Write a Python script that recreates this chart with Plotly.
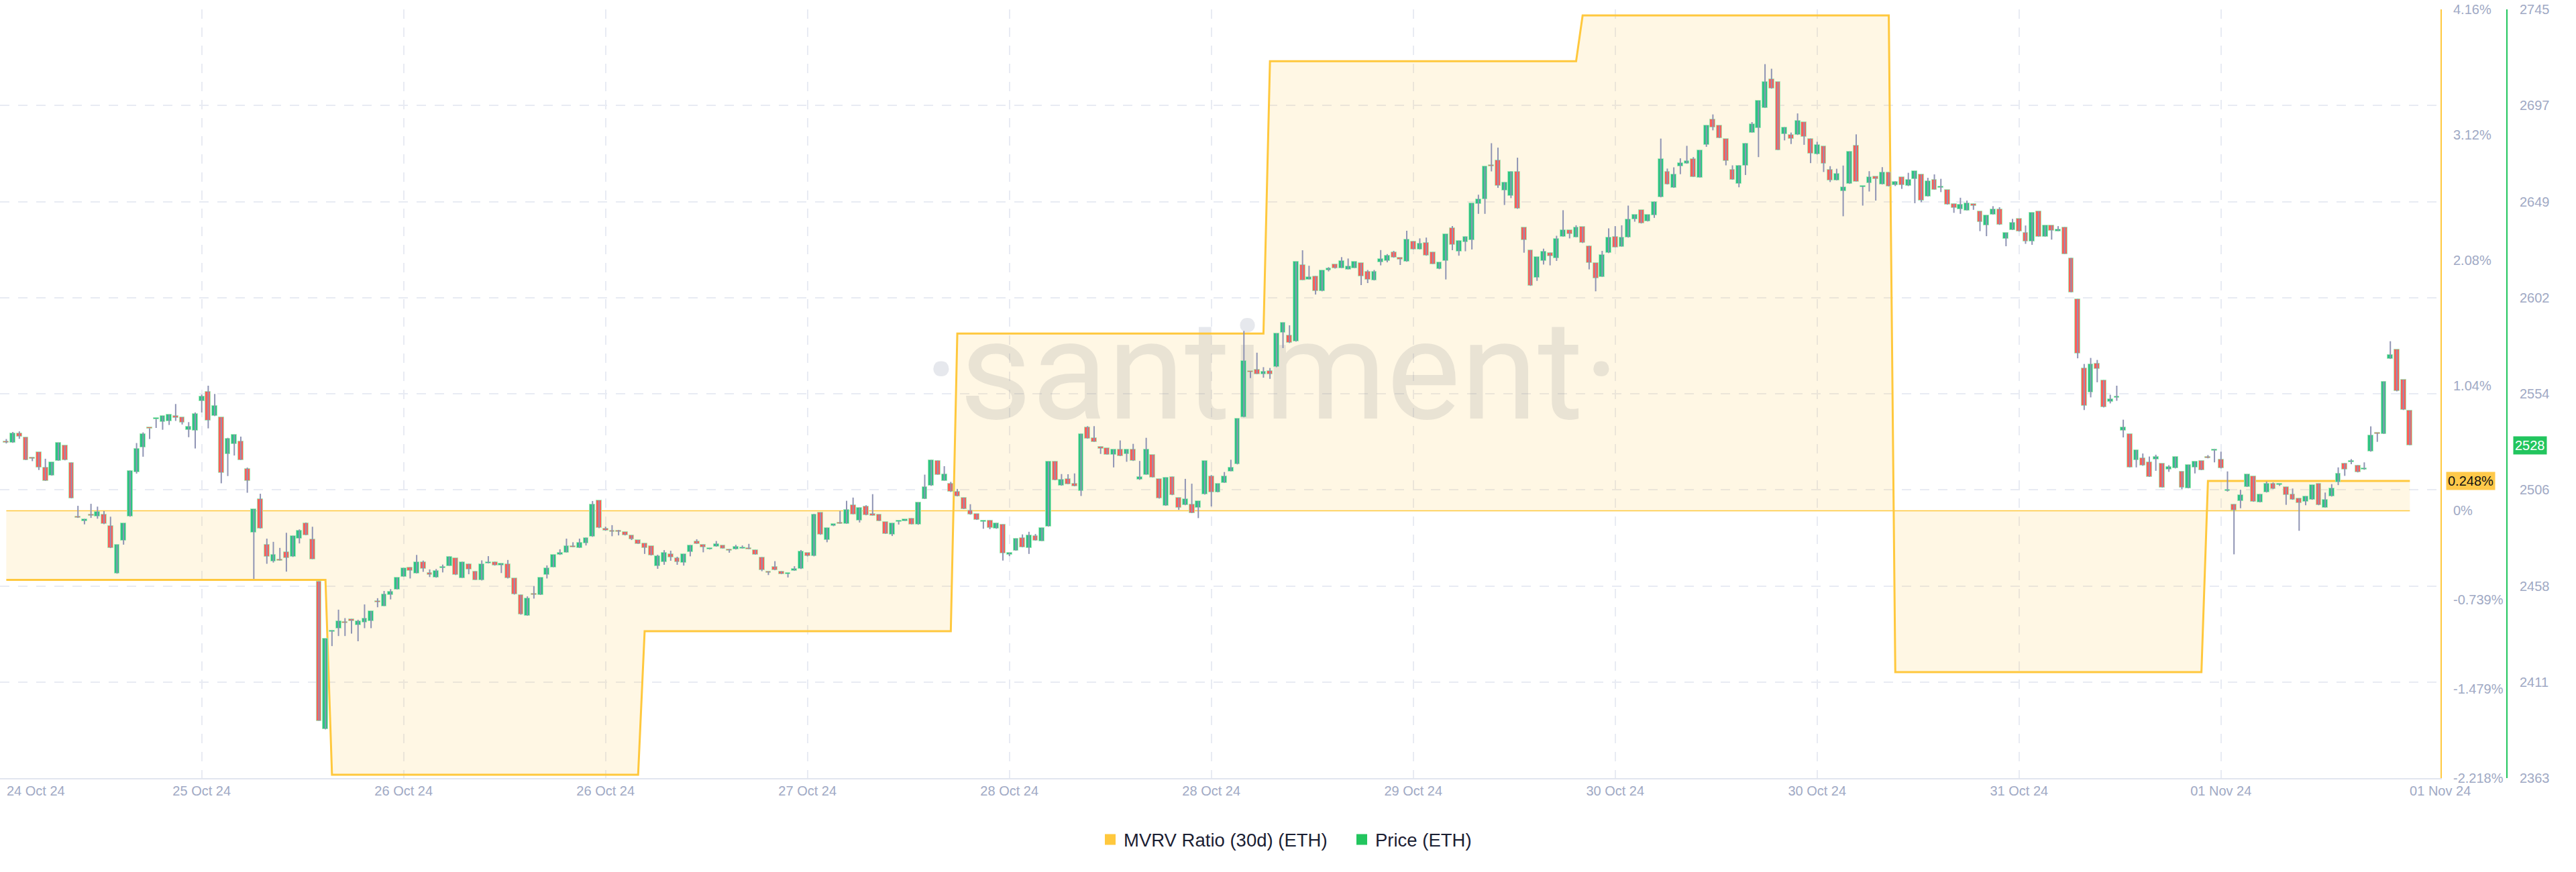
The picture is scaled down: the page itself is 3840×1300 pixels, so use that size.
import pandas as pd
import plotly.graph_objects as go

# ---------------- data ----------------
START = "2024-10-24 23:00"   # first 30-minute candle

OPEN = [
    2530.4, 2529.6, 2534.2, 2532.4, 2522.4, 2524.9, 2517.5, 2513.3, 2520.7, 2528.3,
    2519.8, 2492.9, 2490.6, 2493.4, 2492.9, 2494.0, 2488.5, 2464.6, 2480.9, 2492.9,
    2515.0, 2527.2, 2536.8, 2541.2, 2540.0, 2540.3, 2543.0, 2542.3, 2536.1, 2535.8,
    2550.3, 2555.0, 2542.9, 2542.2, 2523.9, 2528.9, 2530.3, 2516.8, 2484.9, 2501.7,
    2478.9, 2470.8, 2471.7, 2475.3, 2472.9, 2482.0, 2489.6, 2481.7, 2460.8, 2387.2,
    2435.6, 2437.5, 2440.3, 2442.1, 2439.1, 2440.2, 2441.1, 2450.5, 2448.5, 2454.1,
    2456.8, 2463.1, 2467.8, 2464.7, 2470.3, 2464.9, 2462.6, 2467.2, 2468.5, 2472.2,
    2462.5, 2469.5, 2465.8, 2461.2, 2469.7, 2470.5, 2468.6, 2469.3, 2462.3, 2454.1,
    2443.7, 2454.3, 2454.0, 2464.1, 2467.8, 2473.9, 2475.1, 2478.3, 2477.4, 2479.7,
    2482.9, 2501.0, 2487.0, 2485.6, 2485.8, 2485.2, 2483.6, 2481.3, 2479.7, 2478.2,
    2468.2, 2470.2, 2474.4, 2472.2, 2470.0, 2475.4, 2480.8, 2479.1, 2476.6, 2478.0,
    2478.6, 2476.8, 2476.6, 2477.1, 2477.4, 2476.4, 2472.8, 2465.7, 2468.0, 2465.8,
    2464.2, 2466.0, 2466.9, 2475.0, 2473.2, 2495.0, 2481.3, 2488.2, 2490.0, 2489.4,
    2498.6, 2491.1, 2498.0, 2493.6, 2493.9, 2490.2, 2484.1, 2490.2, 2490.8, 2492.1,
    2488.9, 2501.7, 2508.2, 2520.8, 2510.8, 2509.4, 2505.2, 2502.4, 2496.1, 2494.3,
    2490.2, 2491.1, 2486.9, 2489.1, 2473.9, 2476.0, 2482.4, 2477.4, 2483.2, 2480.8,
    2488.0, 2520.4, 2508.3, 2511.7, 2509.4, 2505.7, 2537.3, 2531.9, 2527.7, 2526.9,
    2523.6, 2526.3, 2523.9, 2526.3, 2511.2, 2513.8, 2523.6, 2511.7, 2498.3, 2512.8,
    2502.4, 2498.6, 2498.9, 2497.4, 2503.9, 2513.0, 2505.0, 2509.7, 2515.5, 2518.9,
    2542.3, 2565.2, 2566.1, 2563.6, 2565.2, 2567.2, 2584.5, 2583.1, 2579.9, 2618.0,
    2610.8, 2612.5, 2604.9, 2615.5, 2618.2, 2616.5, 2615.8, 2616.5, 2618.9, 2614.6,
    2610.3, 2619.3, 2620.0, 2624.4, 2621.6, 2619.6, 2629.8, 2625.7, 2629.1, 2624.4,
    2615.9, 2620.0, 2636.3, 2624.6, 2629.4, 2630.5, 2648.4, 2650.6, 2667.6, 2669.9,
    2655.0, 2652.5, 2664.2, 2636.6, 2625.4, 2611.7, 2620.0, 2624.1, 2621.4, 2632.1,
    2635.2, 2631.8, 2637.0, 2627.5, 2618.9, 2612.1, 2623.9, 2632.1, 2627.1, 2631.6,
    2640.7, 2645.2, 2639.6, 2642.7, 2651.6, 2664.5, 2656.3, 2666.9, 2668.3, 2670.6,
    2661.5, 2677.8, 2690.3, 2687.2, 2680.6, 2665.2, 2658.4, 2667.5, 2683.8, 2686.0,
    2696.1, 2710.5, 2709.0, 2682.9, 2682.6, 2682.6, 2689.0, 2680.8, 2672.9, 2677.0,
    2665.3, 2660.0, 2654.7, 2658.3, 2677.4, 2656.7, 2658.8, 2662.0, 2658.0, 2664.1,
    2657.8, 2661.6, 2657.2, 2660.8, 2663.0, 2652.0, 2660.5, 2656.3, 2655.3, 2648.4,
    2645.6, 2645.1, 2648.4, 2644.6, 2637.6, 2643.1, 2645.6, 2631.0, 2635.4, 2640.9,
    2634.0, 2629.8, 2644.7, 2632.1, 2637.6, 2634.8, 2636.8, 2621.5, 2601.1, 2566.8,
    2554.7, 2569.1, 2560.8, 2550.0, 2552.0, 2535.6, 2534.0, 2521.0, 2522.0, 2519.9,
    2521.5, 2519.3, 2516.5, 2516.9, 2515.4, 2507.0, 2517.4, 2520.7, 2522.1, 2525.6,
    2521.5, 2505.8, 2499.1, 2500.8, 2507.7, 2512.9, 2500.0, 2504.9, 2509.4, 2508.7,
    2507.7, 2504.1, 2502.1, 2500.3, 2501.3, 2509.4, 2497.5, 2502.9, 2509.9, 2519.5,
    2519.9, 2518.5, 2516.2, 2525.2, 2534.5, 2534.0, 2571.3, 2575.9, 2561.0, 2545.6,
]
HIGH = [
    2531.5, 2535.0, 2535.3, 2532.4, 2522.4, 2524.9, 2521.7, 2519.9, 2529.7, 2528.3,
    2519.8, 2498.3, 2491.8, 2499.3, 2497.9, 2495.7, 2492.9, 2479.0, 2489.6, 2515.8,
    2529.5, 2534.8, 2536.8, 2541.5, 2542.9, 2543.7, 2548.9, 2542.3, 2539.9, 2544.7,
    2553.6, 2558.0, 2553.9, 2542.2, 2532.1, 2533.7, 2532.7, 2517.3, 2496.6, 2504.3,
    2482.0, 2480.4, 2477.4, 2484.9, 2483.4, 2486.6, 2490.0, 2487.9, 2460.8, 2432.2,
    2436.5, 2446.7, 2442.5, 2442.1, 2441.7, 2449.3, 2445.9, 2452.4, 2456.0, 2456.9,
    2462.6, 2467.5, 2467.8, 2473.9, 2471.1, 2466.7, 2466.9, 2469.1, 2473.1, 2472.2,
    2470.5, 2469.5, 2465.8, 2471.2, 2473.3, 2470.5, 2469.7, 2471.4, 2462.3, 2454.1,
    2453.3, 2458.4, 2462.6, 2468.7, 2473.9, 2476.7, 2482.0, 2480.2, 2482.0, 2482.5,
    2500.7, 2501.0, 2488.0, 2488.7, 2486.3, 2485.2, 2483.6, 2481.3, 2479.7, 2478.2,
    2474.0, 2476.3, 2476.0, 2473.0, 2474.4, 2478.8, 2481.7, 2479.1, 2477.4, 2480.8,
    2478.6, 2476.8, 2478.9, 2478.6, 2479.4, 2476.4, 2472.8, 2465.7, 2470.8, 2465.8,
    2464.6, 2468.3, 2476.3, 2475.0, 2494.3, 2495.0, 2487.4, 2489.2, 2495.8, 2500.8,
    2502.4, 2497.4, 2498.6, 2504.1, 2493.9, 2490.2, 2489.7, 2490.6, 2491.6, 2492.1,
    2500.0, 2513.8, 2521.1, 2520.8, 2518.0, 2510.2, 2506.7, 2502.4, 2499.1, 2494.3,
    2490.6, 2491.1, 2489.7, 2489.1, 2475.0, 2482.1, 2484.1, 2485.4, 2484.3, 2487.4,
    2520.2, 2520.4, 2514.1, 2514.0, 2514.4, 2534.1, 2537.9, 2537.9, 2527.7, 2526.9,
    2526.3, 2530.8, 2526.3, 2529.1, 2520.6, 2532.1, 2523.6, 2511.7, 2512.4, 2512.8,
    2502.4, 2511.7, 2509.3, 2500.6, 2520.6, 2513.6, 2509.3, 2515.1, 2521.2, 2541.6,
    2585.2, 2565.2, 2574.4, 2567.2, 2566.8, 2584.0, 2589.4, 2588.0, 2619.6, 2625.3,
    2617.6, 2612.5, 2615.2, 2616.9, 2618.2, 2621.9, 2621.2, 2619.6, 2618.9, 2615.5,
    2615.5, 2625.4, 2623.4, 2625.0, 2621.6, 2635.0, 2629.8, 2631.2, 2631.6, 2624.4,
    2619.3, 2633.2, 2637.3, 2630.1, 2632.1, 2648.6, 2652.9, 2666.9, 2678.5, 2676.3,
    2659.1, 2664.5, 2671.3, 2636.6, 2625.4, 2622.0, 2626.1, 2624.1, 2632.5, 2645.2,
    2635.2, 2637.7, 2637.0, 2627.5, 2618.9, 2625.0, 2636.2, 2637.3, 2637.7, 2647.5,
    2643.0, 2645.2, 2643.0, 2649.5, 2680.8, 2665.9, 2666.5, 2671.0, 2677.2, 2671.6,
    2675.0, 2687.4, 2692.8, 2687.2, 2680.6, 2667.5, 2667.5, 2678.5, 2689.0, 2699.6,
    2717.8, 2715.5, 2709.0, 2686.5, 2683.8, 2693.3, 2689.0, 2680.8, 2679.2, 2677.0,
    2667.1, 2665.8, 2667.4, 2674.4, 2682.9, 2657.0, 2664.6, 2662.0, 2666.6, 2664.1,
    2659.6, 2661.6, 2663.8, 2664.6, 2663.0, 2661.3, 2663.0, 2660.8, 2655.3, 2648.4,
    2651.4, 2650.0, 2648.4, 2644.6, 2642.6, 2647.2, 2646.7, 2634.0, 2640.9, 2640.9,
    2637.6, 2643.9, 2644.7, 2637.6, 2637.6, 2637.3, 2636.8, 2621.5, 2601.1, 2568.8,
    2571.8, 2570.8, 2560.8, 2553.5, 2558.0, 2541.1, 2534.0, 2526.0, 2524.3, 2522.8,
    2523.7, 2519.3, 2518.5, 2522.7, 2515.4, 2518.7, 2520.3, 2520.7, 2523.5, 2526.5,
    2525.2, 2515.4, 2499.1, 2506.3, 2514.0, 2512.9, 2504.1, 2510.4, 2509.9, 2509.1,
    2507.7, 2506.9, 2502.1, 2503.1, 2508.6, 2509.4, 2504.9, 2509.1, 2517.4, 2519.5,
    2521.5, 2518.5, 2519.9, 2537.8, 2534.5, 2560.1, 2580.1, 2575.9, 2561.0, 2545.6,
]
LOW = [
    2529.3, 2529.6, 2531.6, 2521.0, 2520.5, 2516.1, 2510.7, 2513.3, 2520.7, 2520.9,
    2502.0, 2492.3, 2489.1, 2492.3, 2491.9, 2489.2, 2477.3, 2464.6, 2479.0, 2492.9,
    2514.3, 2522.7, 2531.5, 2537.0, 2536.1, 2538.5, 2540.5, 2538.7, 2532.4, 2526.8,
    2544.7, 2536.8, 2542.9, 2509.5, 2513.1, 2523.3, 2521.1, 2504.8, 2462.0, 2487.0,
    2469.5, 2470.1, 2471.1, 2465.6, 2472.9, 2479.6, 2483.7, 2471.8, 2391.5, 2387.2,
    2428.6, 2433.6, 2433.6, 2434.8, 2431.0, 2437.5, 2437.5, 2447.9, 2448.5, 2451.8,
    2456.8, 2463.1, 2462.2, 2464.7, 2465.5, 2462.9, 2462.6, 2465.2, 2468.5, 2463.9,
    2462.5, 2464.3, 2461.5, 2461.2, 2469.7, 2468.6, 2464.9, 2462.2, 2454.2, 2444.2,
    2443.7, 2452.2, 2454.0, 2462.2, 2467.8, 2473.9, 2475.1, 2477.8, 2477.4, 2478.6,
    2482.9, 2487.2, 2485.9, 2483.2, 2483.6, 2483.6, 2481.3, 2479.4, 2474.4, 2473.6,
    2467.0, 2469.0, 2471.0, 2469.0, 2468.6, 2473.2, 2479.4, 2475.2, 2476.6, 2478.0,
    2477.1, 2475.0, 2476.6, 2477.1, 2476.8, 2474.1, 2465.8, 2463.9, 2466.3, 2464.4,
    2462.7, 2466.0, 2466.9, 2473.2, 2473.2, 2483.9, 2480.2, 2488.2, 2489.4, 2489.4,
    2494.1, 2490.0, 2493.6, 2493.5, 2490.8, 2484.4, 2483.3, 2489.0, 2490.8, 2489.1,
    2488.9, 2501.7, 2508.2, 2513.8, 2510.8, 2505.2, 2503.0, 2496.7, 2493.9, 2491.3,
    2486.9, 2486.7, 2486.9, 2471.1, 2473.3, 2476.0, 2477.7, 2474.4, 2481.0, 2480.8,
    2488.0, 2511.0, 2508.3, 2509.1, 2508.0, 2503.2, 2531.7, 2530.1, 2524.1, 2523.8,
    2517.4, 2523.0, 2520.2, 2520.6, 2511.2, 2513.8, 2512.4, 2501.9, 2498.3, 2503.6,
    2496.3, 2498.6, 2494.7, 2492.2, 2503.9, 2498.0, 2505.0, 2509.7, 2515.5, 2518.9,
    2542.3, 2561.8, 2563.8, 2562.0, 2561.4, 2567.2, 2576.7, 2579.2, 2579.9, 2610.5,
    2610.8, 2603.3, 2604.9, 2614.8, 2616.2, 2616.5, 2615.8, 2616.5, 2608.0, 2609.0,
    2610.3, 2617.8, 2619.3, 2621.6, 2618.0, 2619.6, 2625.7, 2625.7, 2622.6, 2618.5,
    2615.9, 2610.8, 2625.3, 2622.6, 2624.8, 2625.7, 2643.4, 2643.4, 2664.5, 2656.3,
    2647.8, 2651.2, 2645.9, 2624.1, 2607.6, 2610.1, 2618.2, 2617.8, 2620.0, 2632.1,
    2631.2, 2631.8, 2628.9, 2615.8, 2604.9, 2612.1, 2623.9, 2626.8, 2627.1, 2631.6,
    2639.5, 2638.6, 2639.6, 2641.4, 2651.6, 2658.0, 2656.3, 2663.1, 2668.3, 2661.8,
    2661.5, 2676.7, 2684.9, 2681.1, 2667.5, 2660.4, 2656.6, 2662.7, 2683.8, 2671.6,
    2696.1, 2705.6, 2675.1, 2679.9, 2678.1, 2682.6, 2677.7, 2668.6, 2672.9, 2664.2,
    2659.2, 2660.0, 2642.2, 2658.3, 2659.5, 2647.5, 2654.5, 2650.0, 2658.0, 2657.0,
    2657.2, 2655.8, 2657.2, 2648.7, 2649.2, 2652.0, 2655.5, 2654.2, 2648.0, 2643.9,
    2643.4, 2645.1, 2645.4, 2634.8, 2632.3, 2643.1, 2637.9, 2627.3, 2635.4, 2634.6,
    2628.5, 2628.0, 2632.1, 2632.1, 2630.6, 2634.8, 2623.5, 2604.4, 2571.6, 2545.9,
    2552.2, 2559.7, 2547.2, 2549.2, 2550.5, 2532.3, 2517.4, 2517.4, 2518.2, 2512.7,
    2515.7, 2507.4, 2515.2, 2516.9, 2506.6, 2507.0, 2514.4, 2516.0, 2521.9, 2519.9,
    2516.9, 2505.4, 2474.2, 2497.1, 2507.7, 2500.3, 2500.0, 2504.9, 2506.6, 2508.2,
    2498.8, 2501.3, 2485.9, 2498.6, 2501.3, 2498.6, 2497.5, 2502.9, 2508.6, 2513.2,
    2519.0, 2514.9, 2516.2, 2525.2, 2530.1, 2534.0, 2571.3, 2555.2, 2545.9, 2528.4,
]
CLOSE = [
    2529.7, 2534.3, 2532.7, 2521.0, 2521.6, 2517.4, 2510.7, 2519.9, 2529.7, 2520.9,
    2502.0, 2492.4, 2491.8, 2493.2, 2495.3, 2489.2, 2477.3, 2479.0, 2489.6, 2515.8,
    2526.6, 2534.1, 2536.6, 2541.5, 2542.9, 2543.7, 2541.9, 2539.6, 2537.8, 2544.1,
    2552.7, 2540.8, 2547.9, 2514.7, 2531.6, 2533.7, 2521.1, 2510.8, 2496.6, 2487.0,
    2473.0, 2473.9, 2471.1, 2472.3, 2483.4, 2486.0, 2483.7, 2471.8, 2391.5, 2432.2,
    2436.5, 2440.9, 2440.1, 2440.9, 2441.1, 2442.5, 2445.9, 2450.4, 2454.4, 2455.6,
    2462.6, 2467.5, 2465.9, 2470.5, 2467.1, 2464.1, 2466.1, 2467.4, 2473.1, 2463.9,
    2470.5, 2466.7, 2461.5, 2469.5, 2470.3, 2468.6, 2469.7, 2462.2, 2454.2, 2444.2,
    2452.4, 2454.1, 2462.6, 2467.3, 2473.9, 2475.1, 2478.3, 2477.8, 2479.9, 2482.5,
    2498.9, 2487.2, 2485.9, 2485.4, 2485.2, 2483.6, 2481.7, 2479.4, 2477.4, 2473.6,
    2473.2, 2475.0, 2472.8, 2470.2, 2474.4, 2478.8, 2479.4, 2477.7, 2477.4, 2479.4,
    2477.1, 2476.0, 2478.0, 2477.8, 2476.8, 2474.1, 2466.3, 2464.9, 2466.3, 2464.4,
    2464.6, 2466.9, 2475.8, 2473.2, 2493.9, 2483.9, 2487.4, 2489.2, 2489.4, 2496.3,
    2494.1, 2497.4, 2493.6, 2493.5, 2490.8, 2484.4, 2489.7, 2490.3, 2491.6, 2489.1,
    2500.0, 2507.8, 2521.1, 2513.8, 2514.1, 2505.2, 2503.0, 2496.7, 2493.9, 2491.3,
    2490.6, 2487.2, 2489.7, 2474.7, 2475.0, 2482.1, 2477.7, 2483.6, 2481.0, 2487.4,
    2520.2, 2511.0, 2511.2, 2509.1, 2508.0, 2534.1, 2531.7, 2530.1, 2526.6, 2523.8,
    2526.3, 2523.0, 2526.3, 2520.6, 2512.8, 2526.3, 2512.4, 2501.9, 2512.4, 2503.6,
    2497.2, 2501.7, 2494.7, 2500.6, 2520.6, 2505.0, 2509.3, 2513.1, 2517.3, 2541.6,
    2570.2, 2564.8, 2563.8, 2564.9, 2563.6, 2584.0, 2589.4, 2579.2, 2619.6, 2610.5,
    2612.1, 2604.9, 2615.2, 2616.2, 2616.2, 2619.9, 2617.5, 2619.6, 2612.5, 2610.8,
    2614.6, 2621.0, 2622.6, 2621.6, 2620.7, 2630.8, 2625.7, 2628.7, 2622.6, 2618.5,
    2619.3, 2633.2, 2628.0, 2630.1, 2632.1, 2648.6, 2650.6, 2666.9, 2666.9, 2657.4,
    2659.1, 2664.5, 2645.9, 2630.5, 2607.6, 2622.0, 2624.6, 2622.3, 2630.9, 2635.2,
    2633.2, 2636.6, 2628.9, 2618.9, 2611.2, 2623.0, 2631.8, 2626.8, 2631.8, 2640.7,
    2643.0, 2638.6, 2643.0, 2649.5, 2670.6, 2658.0, 2663.1, 2668.8, 2669.7, 2661.8,
    2675.0, 2687.4, 2686.5, 2681.1, 2669.7, 2660.4, 2667.5, 2678.5, 2687.9, 2699.6,
    2709.0, 2705.6, 2675.1, 2686.5, 2680.8, 2689.7, 2681.8, 2673.3, 2677.7, 2668.2,
    2660.0, 2663.3, 2656.7, 2674.4, 2659.5, 2657.0, 2661.6, 2660.8, 2664.0, 2657.0,
    2659.2, 2657.8, 2660.3, 2664.6, 2650.0, 2659.6, 2655.5, 2656.4, 2648.0, 2646.2,
    2648.0, 2648.7, 2647.2, 2639.3, 2642.6, 2645.6, 2637.9, 2634.0, 2638.9, 2634.6,
    2629.8, 2643.9, 2632.1, 2637.6, 2635.1, 2635.6, 2623.5, 2604.4, 2574.1, 2548.0,
    2568.8, 2566.3, 2547.2, 2551.4, 2552.2, 2537.3, 2517.4, 2526.0, 2518.2, 2512.7,
    2522.7, 2507.4, 2517.7, 2522.7, 2507.4, 2518.7, 2520.3, 2516.0, 2521.9, 2525.7,
    2516.9, 2505.9, 2496.1, 2503.8, 2514.0, 2500.3, 2504.1, 2509.4, 2506.6, 2508.9,
    2503.6, 2501.3, 2499.6, 2503.1, 2508.6, 2498.6, 2501.3, 2506.9, 2514.5, 2516.2,
    2520.7, 2514.9, 2516.9, 2533.4, 2534.0, 2560.1, 2573.4, 2555.2, 2545.9, 2528.4,
]

# daily MVRV Ratio (30d), in %
MVRV_DAYS = ["2024-10-25", "2024-10-26", "2024-10-27", "2024-10-28",
             "2024-10-29", "2024-10-30", "2024-10-31", "2024-11-01"]
MVRV_VALUES = [-0.573, -2.19, -0.999, 1.471, 3.73, 4.11, -1.339, 0.248]

PRICE_TICKS = [2363, 2410.75, 2458.5, 2506.25, 2554, 2601.75, 2649.5, 2697.25, 2745]
PRICE_TICK_LABELS = ["2363", "2411", "2458", "2506", "2554", "2602", "2649", "2697", "2745"]
MVRV_TICKS = [-2.218, -1.479, -0.739, 0, 1.04, 2.08, 3.12, 4.16]
MVRV_TICK_LABELS = ["-2.218%", "-1.479%", "-0.739%", "0%", "1.04%", "2.08%", "3.12%", "4.16%"]
X_TICKS = ["2024-10-24 22:31:30", "2024-10-25 14:00", "2024-10-26 05:30", "2024-10-26 21:00",
           "2024-10-27 12:30", "2024-10-28 04:00", "2024-10-28 19:30", "2024-10-29 11:00",
           "2024-10-30 02:30", "2024-10-30 18:00", "2024-10-31 09:30", "2024-11-01 01:00",
           "2024-11-01 17:50"]
X_TICK_LABELS = ["", "25 Oct 24", "26 Oct 24", "26 Oct 24", "27 Oct 24", "28 Oct 24", "28 Oct 24",
                 "29 Oct 24", "30 Oct 24", "30 Oct 24", "31 Oct 24", "01 Nov 24", "01 Nov 24"]
FIRST_X_LABEL = "24 Oct 24"
X_RANGE = ["2024-10-24 22:31", "2024-11-01 17:51"]
SERIES_NAMES = ["MVRV Ratio (30d) (ETH)", "Price (ETH)"]

# ---------------- styling ----------------
W, H = 3840, 1300
ML, MR, MT, MB = 0, 103, 14, 140
PAPER_W = W - ML - MR
PLOT_RIGHT_PX = 3638
XDOM_END = PLOT_RIGHT_PX / PAPER_W

ORANGE = "#FFC83D"
FILL = "rgba(255,200,61,0.14)"
GREEN_AXIS = "#22C55E"
UP = "#2DC483"
DOWN = "#FF5E57"
BODY_EDGE = "#A3E6B5"
WICK = "#8F94B4"
TICK = "#A0A9C4"
GRID = "#E8EBF3"
FONT = "Liberation Sans"

times = pd.date_range(START, periods=len(CLOSE), freq="30min")
mvrv = (pd.Series(MVRV_VALUES, index=pd.to_datetime(MVRV_DAYS))
        .reindex(times, method="ffill").bfill())

bases, heights, colors = [], [], []
wx, wy = [], []
for t, o, h, l, c in zip(times, OPEN, HIGH, LOW, CLOSE):
    lo_b, hi_b = min(o, c), max(o, c)
    bases.append(lo_b)
    heights.append(max(hi_b - lo_b, 0.7))
    colors.append(UP if c >= o else DOWN)
    wx += [t, t, None]
    wy += [min(l, lo_b), max(h, hi_b), None]

fig = go.Figure()

# watermark (under everything)
x0, x1 = pd.Timestamp(X_RANGE[0]), pd.Timestamp(X_RANGE[1])
wm_x = x0 + (x1 - x0) * 0.521
wm_y = MVRV_TICKS[0] + (MVRV_TICKS[-1] - MVRV_TICKS[0]) * 0.513
fig.add_trace(go.Scatter(
    x=[wm_x], y=[wm_y], mode="text", text=["·santiment·"],
    textfont=dict(family="Roboto", size=208, color="rgba(100,110,140,0.16)"),
    hoverinfo="skip", showlegend=False, yaxis="y"))

# MVRV area
fig.add_trace(go.Scatter(
    x=times, y=mvrv.values, mode="lines", line=dict(color=ORANGE, width=3),
    fill="tozeroy", fillcolor=FILL, hoverinfo="skip", showlegend=False, yaxis="y"))
fig.add_trace(go.Scatter(
    x=times, y=[0] * len(times), mode="lines", line=dict(color=ORANGE, width=1.5),
    hoverinfo="skip", showlegend=False, yaxis="y"))

# price candles
fig.add_trace(go.Scatter(
    x=wx, y=wy, mode="lines", line=dict(color=WICK, width=2), connectgaps=False,
    hoverinfo="skip", showlegend=False, yaxis="y2"))
fig.add_trace(go.Bar(
    x=times, y=heights, base=bases, width=1.45e6,
    marker=dict(color=colors, line=dict(color=BODY_EDGE, width=1)),
    hoverinfo="skip", showlegend=False, yaxis="y2"))

# legend entries (one legend each, placed like the reference)
fig.add_trace(go.Scatter(x=[None], y=[None], mode="markers", name=SERIES_NAMES[0],
                         marker=dict(symbol="square", size=17, color=ORANGE),
                         yaxis="y", legend="legend"))
fig.add_trace(go.Scatter(x=[None], y=[None], mode="markers", name=SERIES_NAMES[1],
                         marker=dict(symbol="square", size=17, color=GREEN_AXIS),
                         yaxis="y", legend="legend2"))

legend_style = dict(orientation="h", xanchor="left", y=-0.08, yanchor="middle",
                    font=dict(size=27.5, color="#1B2033", family=FONT),
                    bgcolor="rgba(0,0,0,0)", borderwidth=0)

fig.update_layout(
    width=W, height=H, paper_bgcolor="white", plot_bgcolor="white",
    margin=dict(l=ML, r=MR, t=MT, b=MB), hovermode=False,
    font=dict(family=FONT, color=TICK, size=20),
    xaxis=dict(
        domain=[0, XDOM_END], type="date", range=X_RANGE,
        tickmode="array", tickvals=X_TICKS, ticktext=X_TICK_LABELS,
        showgrid=True, gridcolor=GRID, gridwidth=2, griddash="14px,13px",
        showline=True, linecolor="#E1E5EF", linewidth=2, zeroline=False,
        ticks="", ticklabelstandoff=0, tickfont=dict(size=20, color=TICK, family=FONT)),
    yaxis=dict(
        range=[MVRV_TICKS[0], MVRV_TICKS[-1]], side="right", anchor="x",
        tickmode="array", tickvals=MVRV_TICKS, ticktext=MVRV_TICK_LABELS,
        showgrid=False, zeroline=False, showline=True, linecolor=ORANGE, linewidth=2,
        ticks="", ticklabelstandoff=13, tickfont=dict(size=20, color=TICK, family=FONT)),
    yaxis2=dict(
        range=[PRICE_TICKS[0], PRICE_TICKS[-1]], side="right", overlaying="y",
        anchor="free", position=1.0,
        tickmode="array", tickvals=PRICE_TICKS, ticktext=PRICE_TICK_LABELS,
        showgrid=True, gridcolor=GRID, gridwidth=2, griddash="14px,13px",
        zeroline=False, showline=True, linecolor=GREEN_AXIS, linewidth=2,
        ticks="", ticklabelstandoff=14, tickfont=dict(size=20, color=TICK, family=FONT)),
    legend=dict(x=1635 / PAPER_W, **legend_style),
    legend2=dict(x=2010 / PAPER_W, **legend_style),
    bargap=0,
)

fig.add_annotation(xref="paper", yref="paper", x=0, y=0, xanchor="left", yanchor="top",
                   xshift=8, yshift=-6, text=FIRST_X_LABEL, showarrow=False,
                   font=dict(size=20, color=TICK, family=FONT))
fig.add_annotation(xref="paper", yref="y2", x=1.0, y=CLOSE[-1], xanchor="left", yanchor="middle",
                   xshift=9, text=f"{CLOSE[-1]:.0f}", showarrow=False, bgcolor=GREEN_AXIS,
                   borderpad=2, font=dict(size=20, color="white", family=FONT))
fig.add_annotation(xref="paper", yref="y", x=XDOM_END, y=MVRV_VALUES[-1], xanchor="left",
                   yanchor="middle", xshift=8, text=f"{MVRV_VALUES[-1]}%", showarrow=False,
                   bgcolor="#FFC94A", borderpad=2, font=dict(size=20, color="#111111", family=FONT))

fig.write_html("out.html", config={"displayModeBar": False},
               post_script="document.body.style.margin='0px';document.body.style.padding='0px';")
